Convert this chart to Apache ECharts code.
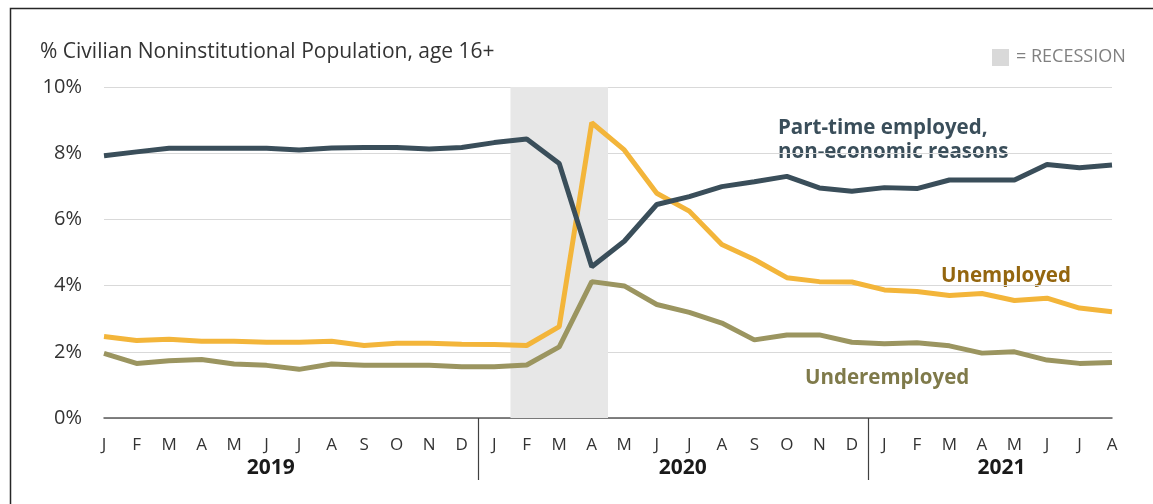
<!DOCTYPE html>
<html>
<head>
<meta charset="utf-8">
<script src="https://cdn.jsdelivr.net/npm/echarts@6/dist/echarts.min.js"></script>
<style>
  html, body { margin: 0; padding: 0; background: #fff; }
  #chart { width: 1153px; height: 504px; }
</style>
</head>
<body>
<div id="chart"></div>
<script>
// Month letters, Jan 2019 through Aug 2021
const monthLabels = ['J','F','M','A','M','J','J','A','S','O','N','D',
                     'J','F','M','A','M','J','J','A','S','O','N','D',
                     'J','F','M','A','M','J','J','A'];
const yearLabels = ['2019', '2020', '2021'];
const yearCenters = [5.13, 17.8, 27.6];      // month-index where each year label sits
const yearBreaks = [11.5, 23.5];             // dividers between years
const recession = [12.5, 15.5];              // Feb–Apr 2020
const yTicks = [0, 2, 4, 6, 8, 10];

// % of civilian noninstitutional population, age 16+
const partTime = [7.92, 8.04, 8.15, 8.15, 8.15, 8.15, 8.10, 8.16, 8.17, 8.17, 8.13, 8.17,
                  8.32, 8.43, 7.69, 4.57, 5.34, 6.45, 6.69, 6.99, 7.14, 7.30, 6.95, 6.85,
                  6.96, 6.93, 7.19, 7.19, 7.19, 7.66, 7.56, 7.64];
const unemployed = [2.46, 2.34, 2.38, 2.32, 2.32, 2.29, 2.29, 2.32, 2.19, 2.26, 2.26, 2.23,
                    2.22, 2.19, 2.76, 8.92, 8.10, 6.79, 6.25, 5.24, 4.79, 4.24, 4.12, 4.11,
                    3.87, 3.82, 3.70, 3.76, 3.55, 3.62, 3.32, 3.21];
const underemployed = [1.95, 1.65, 1.73, 1.77, 1.63, 1.59, 1.47, 1.63, 1.59, 1.59, 1.59, 1.55,
                       1.55, 1.60, 2.15, 4.12, 3.99, 3.43, 3.19, 2.87, 2.36, 2.51, 2.51, 2.29,
                       2.24, 2.27, 2.18, 1.96, 2.00, 1.75, 1.65, 1.68];

const toPairs = arr => arr.map((v, i) => [i, v]);
const FONT = '"Open Sans", "Noto Sans", sans-serif';

const chart = echarts.init(document.getElementById('chart'), null, { renderer: 'canvas' });

chart.setOption({
  animation: false,
  backgroundColor: '#ffffff',
  grid: { left: 104, right: 41, top: 87, bottom: 86, containLabel: false },
  xAxis: [
    {
      type: 'value', min: 0, max: monthLabels.length - 1, interval: 1,
      axisLine: { show: true, lineStyle: { color: '#595959', width: 1.5 } },
      axisTick: { show: false },
      splitLine: { show: false },
      axisLabel: {
        margin: 19, color: '#333333', fontFamily: FONT, fontSize: 17,
        formatter: v => monthLabels[Math.round(v)] || ''
      }
    },
    {
      type: 'value', min: 0, max: monthLabels.length - 1, position: 'bottom',
      axisLine: { show: false },
      splitLine: { show: false },
      axisTick: { show: true, customValues: yearBreaks, length: 62, lineStyle: { color: '#404040', width: 1.2 } },
      axisLabel: {
        show: true, customValues: yearCenters, margin: 40,
        color: '#1a1a1a', fontFamily: FONT, fontSize: 21, fontWeight: 'bold',
        formatter: v => {
          const i = yearCenters.findIndex(c => Math.abs(c - v) < 0.01);
          return i >= 0 ? yearLabels[i] : '';
        }
      }
    }
  ],
  yAxis: {
    type: 'value', min: yTicks[0], max: yTicks[yTicks.length - 1], interval: 2,
    axisLine: { show: false }, axisTick: { show: false },
    splitLine: { show: true, lineStyle: { color: '#d9d9d9', width: 1.2 } },
    axisLabel: { margin: 22, color: '#333333', fontFamily: FONT, fontSize: 20, formatter: '{value}%' }
  },
  series: [
    {
      name: 'Recession', type: 'line', data: [], silent: true,
      markArea: {
        silent: true,
        itemStyle: { color: '#e7e7e7' },
        data: [[{ xAxis: recession[0] }, { xAxis: recession[1] }]]
      }
    },
    {
      name: 'Underemployed', type: 'line', data: toPairs(underemployed),
      showSymbol: false, lineStyle: { color: '#9b9560', width: 5 }, z: 3
    },
    {
      name: 'Unemployed', type: 'line', data: toPairs(unemployed),
      showSymbol: false, lineStyle: { color: '#f3b53a', width: 5 }, z: 4
    },
    {
      name: 'Part-time employed, non-economic reasons', type: 'line', data: toPairs(partTime),
      showSymbol: false, lineStyle: { color: '#3a4e5a', width: 5 }, z: 5
    }
  ],
  graphic: [
    { type: 'rect', left: 8, top: 6, shape: { width: 1200, height: 600 },
      style: { fill: 'none', stroke: '#262626', lineWidth: 1.5 }, silent: true },
    { type: 'text', x: 40, y: 52,
      style: { text: '% Civilian Noninstitutional Population, age 16+', fill: '#333333',
               font: '21px ' + FONT, verticalAlign: 'middle' } },
    { type: 'rect', left: 992, top: 49, shape: { width: 17, height: 17 }, style: { fill: '#d9d9d9' } },
    { type: 'text', x: 1016, y: 57,
      style: { text: '= RECESSION', fill: '#808080', font: '18px ' + FONT, verticalAlign: 'middle' } },
    { type: 'text', x: 778, y: 140,
      style: { text: 'Part-time employed,\nnon-economic reasons', fill: '#3a4e5a',
               font: 'bold 20.5px ' + FONT, lineHeight: 24, verticalAlign: 'middle' } },
    { type: 'text', x: 941, y: 276,
      style: { text: 'Unemployed', fill: '#94660f', font: 'bold 20.5px ' + FONT, verticalAlign: 'middle' } },
    { type: 'text', x: 805, y: 378,
      style: { text: 'Underemployed', fill: '#7f7a4a', font: 'bold 20.5px ' + FONT, verticalAlign: 'middle' } }
  ]
});
</script>
</body>
</html>
